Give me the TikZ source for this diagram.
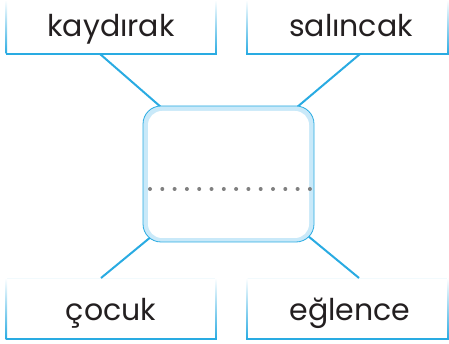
\documentclass[tikz,border=0pt]{standalone}
\usepackage{fontspec}
\setmainfont{Poppins}
\definecolor{lineblue}{HTML}{29ABE2}
\definecolor{bandblue}{HTML}{C9E9F9}
\definecolor{dotgray}{HTML}{808080}
\definecolor{txt}{HTML}{231F20}
\begin{document}
\begin{tikzpicture}[x=1pt,y=-1pt,
  word/.style={font=\fontsize{30}{32}\selectfont, text=txt, anchor=base, inner sep=0pt},
  conn/.style={draw=lineblue, line width=2pt},
  baseline/.style={draw=lineblue, line width=1.4pt},
  side/.style={top color=white, bottom color=lineblue, draw=none}]
\useasboundingbox (0,0) rectangle (449,344);
% label boxes (top)
\shade[side] (5.5,0) rectangle (7,54);
\shade[side] (215,0) rectangle (216.5,54);
\draw[baseline] (5.5,54) -- (216.5,54);
\shade[side] (246,0) rectangle (247.5,54);
\shade[side] (447,0) rectangle (448.5,54);
\draw[baseline] (246,54) -- (449,54);
% label boxes (bottom)
\draw[lineblue!6, line width=1pt] (6,278) -- (216,278);
\shade[side] (5.5,278) rectangle (7,339);
\shade[side] (215,278) rectangle (216.5,339);
\draw[baseline] (5.5,339) -- (216.5,339);
\draw[lineblue!6, line width=1pt] (246,278) -- (449,278);
\shade[side] (246,278) rectangle (247.5,339);
\shade[side] (447,278) rectangle (448.5,339);
\draw[baseline] (246,339) -- (449,339);
% words
\node[word] (kaydirak) at (111,37) {kaydırak};
\node[word] (salincak) at (351,37) {salıncak};
\node[word] (cocuk) at (111,320) {çocuk};
\node[word] (eglence) at (350,320) {eğlence};
% connector end points
\coordinate (k1) at (100,54);
\coordinate (k2) at (162,108);
\coordinate (s1) at (360,54);
\coordinate (s2) at (296,108);
\coordinate (c1) at (101,278);
\coordinate (c2) at (152,236);
\coordinate (e1) at (359,278);
\coordinate (e2) at (308,236);
\draw[conn] (k1) -- (k2);
\draw[conn] (s1) -- (s2);
\draw[conn] (c1) -- (c2);
\draw[conn] (e1) -- (e2);
% central box
\node[draw=lineblue, fill=bandblue, line width=0.8pt, rounded corners=18pt,
      minimum width=171pt, minimum height=136pt, inner sep=0pt] (box) at (228.5,174) {};
\node[fill=white, rounded corners=14pt, minimum width=161pt, minimum height=127pt,
      inner sep=0pt] (inner) at (228.5,174.5) {};
\foreach \i in {0,...,13} {
  \fill[dotgray] (150+\i*12.3,189) circle (2pt);
}
\end{tikzpicture}
\end{document}
